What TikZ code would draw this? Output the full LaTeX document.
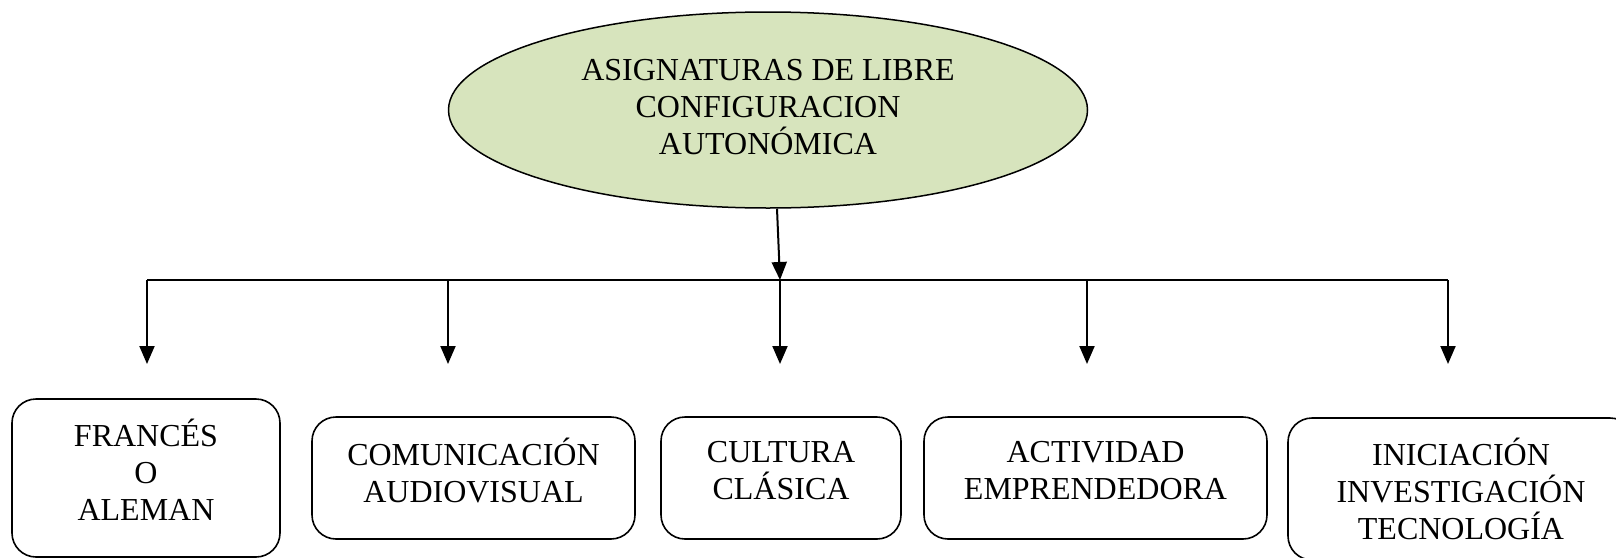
\documentclass[tikz,border=0pt]{standalone}
\usepackage{fontspec}
\setmainfont{Liberation Serif}
\usetikzlibrary{arrows.meta,shapes.geometric}
\definecolor{titlegreen}{HTML}{D7E4BD}
\tikzset{
    title node/.style = {
        ellipse,
        draw,
        line width = 1.5pt,
        fill = titlegreen,
        align = center,
        inner sep = 0pt,
        text depth = 6pt,
        minimum width = 639pt,
        minimum height = 196pt,
        },
    subject/.style = {
        draw,
        line width = 1.6pt,
        rounded corners = 24pt,
        align = center,
        inner sep = 0pt,
        text depth = 16pt,
        minimum height = 122pt,
        },
    branch/.style = {
        line width = 2pt,
        },
    link/.style = {
        line width = 2pt,
        -{Triangle[length=18pt,width=15pt]},
        },
}

\begin{document}
\begin{tikzpicture}[x=1pt, y=-1pt, font=\fontsize{32}{37}\selectfont]
            \useasboundingbox (0,0) rectangle (1616,557);

            \node[title node] (title) at (768,110) {ASIGNATURAS DE LIBRE\\CONFIGURACION\\AUTONÓMICA};

            \node[subject, minimum width=268pt, minimum height=158pt] (frances) at (146,478) {FRANCÉS\\O\\ALEMAN};
            \node[subject, minimum width=323pt] (comunicacion) at (473.5,478) {COMUNICACIÓN\\AUDIOVISUAL};
            \node[subject, minimum width=240pt] (cultura) at (781,478) {CULTURA\\CLÁSICA};
            \node[subject, minimum width=343pt] (actividad) at (1095.5,478) {ACTIVIDAD\\EMPRENDEDORA};
            \node[subject, minimum width=346pt, minimum height=142pt, text depth=0pt] (iniciacion) at (1461,489) {INICIACIÓN\\INVESTIGACIÓN\\TECNOLOGÍA};

            % bar and its joints
            \coordinate (hub) at (780,280);
            \coordinate (j1) at (147,280);
            \coordinate (j2) at (448,280);
            \coordinate (j3) at (780,280);
            \coordinate (j4) at (1087,280);
            \coordinate (j5) at (1448,280);
            \coordinate (t1) at (147,364);
            \coordinate (t2) at (448,364);
            \coordinate (t3) at (780,364);
            \coordinate (t4) at (1087,364);
            \coordinate (t5) at (1448,364);

            \draw[link] ([xshift=9pt]title.south) -- (hub);
            \draw[branch] (j1) -- (j5);
            \draw[link] (j1) -- (t1);
            \draw[link] (j2) -- (t2);
            \draw[link] (j3) -- (t3);
            \draw[link] (j4) -- (t4);
            \draw[link] (j5) -- (t5);
        \end{tikzpicture}
\end{document}
